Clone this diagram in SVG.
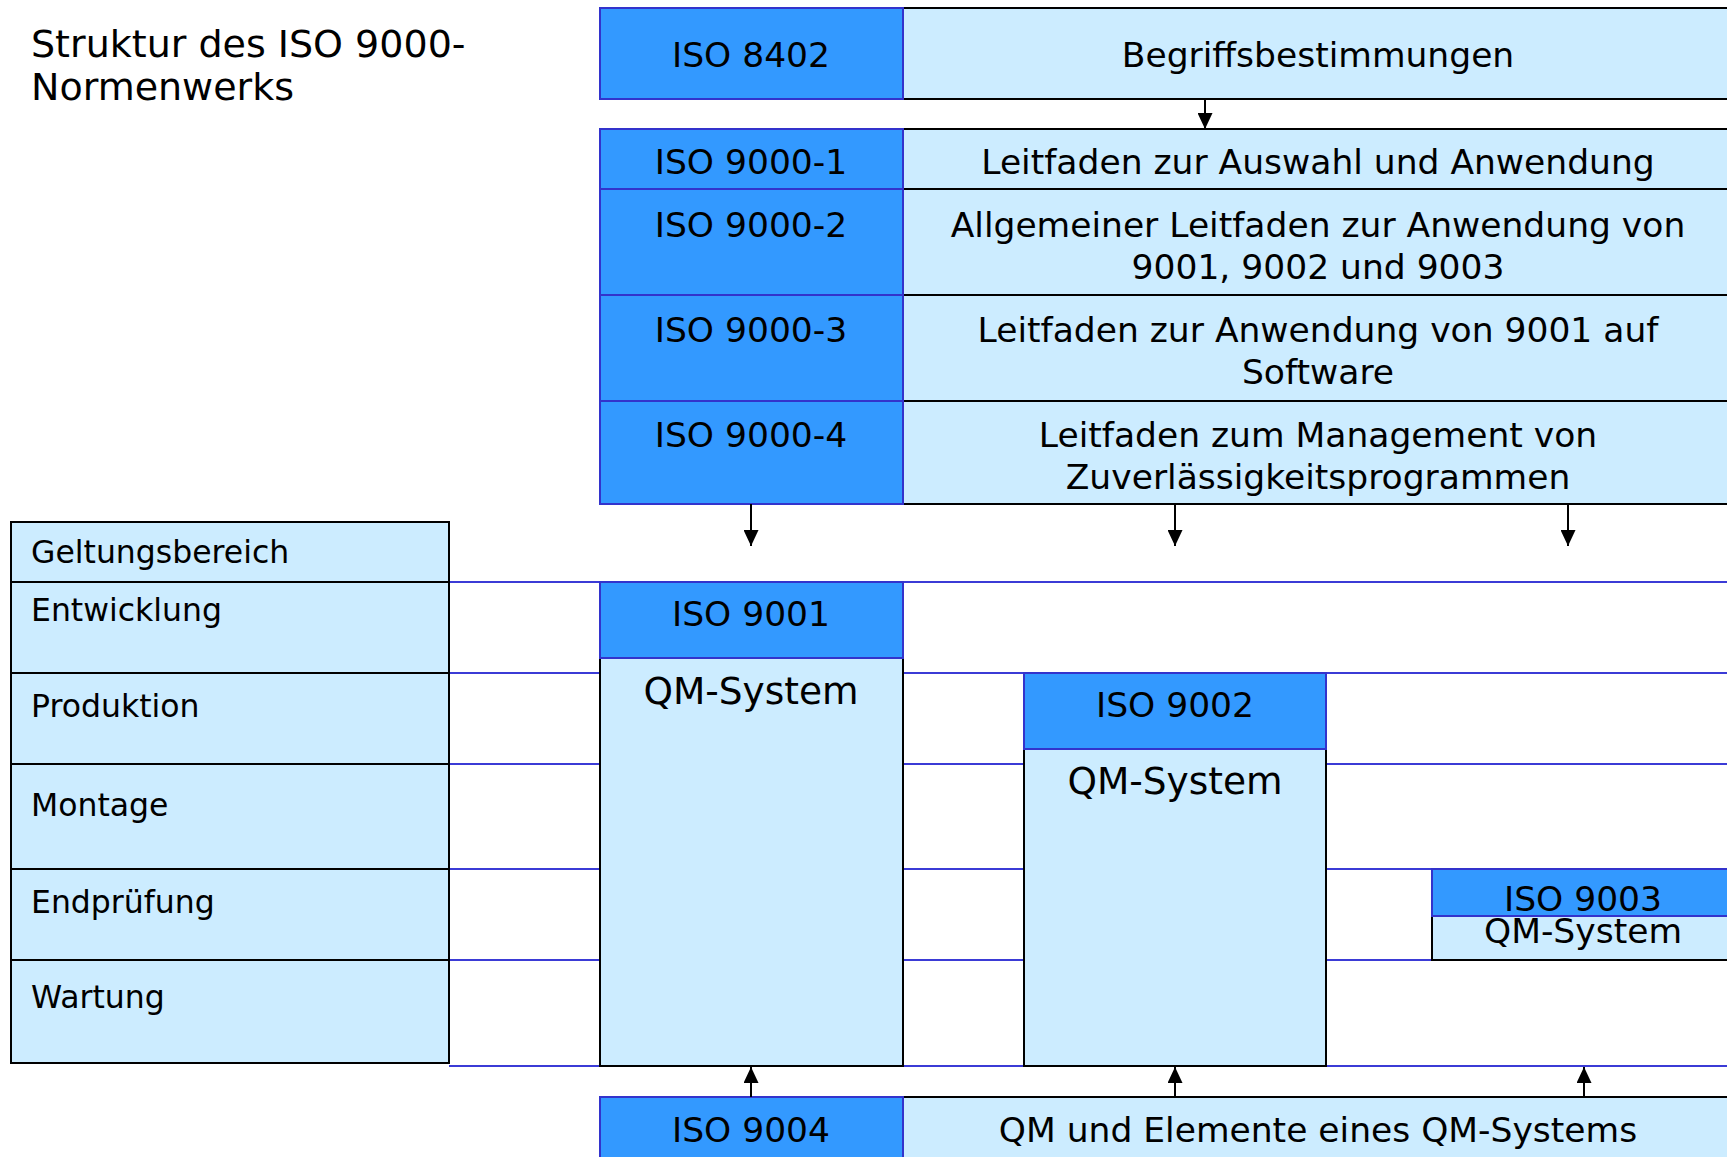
<svg xmlns="http://www.w3.org/2000/svg" width="1727" height="1157" viewBox="0 0 1727 1157">
  <style>
    .hdr { fill: #3399ff; stroke: #3333cc; stroke-width: 2; }
    .cell { fill: #ccecff; stroke: #000; stroke-width: 2; }
    .lane { stroke: #3b3bd6; stroke-width: 2; fill: none; }
    .conn { stroke: #000; stroke-width: 2; fill: none; }
    text { font-family: "DejaVu Sans", Verdana, sans-serif; fill: #000; }
    .c { text-anchor: middle; font-size: 34.5px; }
    .lbl { font-size: 31.5px; }
    .qm { text-anchor: middle; font-size: 37.5px; }
    .title { font-size: 38px; }
  </style>
  <defs>
    <marker id="arrow" markerUnits="userSpaceOnUse" markerWidth="16" markerHeight="15" refX="16" refY="7.5" orient="auto">
      <path d="M0,0 L16,7.5 L0,15 Z" fill="#000"/>
    </marker>
  </defs>
  <rect width="1727" height="1157" fill="#fff"/>

  <!-- title -->
  <g id="title">
    <text class="title" x="31" y="57">Struktur des ISO 9000-</text>
    <text class="title" x="31" y="100">Normenwerks</text>
  </g>

  <!-- lane guide lines for the scope rows -->
  <g id="lanes">
    <line class="lane" x1="449" y1="582" x2="1727" y2="582"/>
    <line class="lane" x1="449" y1="673" x2="1727" y2="673"/>
    <line class="lane" x1="449" y1="764" x2="1727" y2="764"/>
    <line class="lane" x1="449" y1="869" x2="1727" y2="869"/>
    <line class="lane" x1="449" y1="960" x2="1727" y2="960"/>
    <line class="lane" x1="449" y1="1066" x2="1727" y2="1066"/>
  </g>

  <!-- ISO 8402 -->
  <g id="iso8402">
    <rect class="cell" x="903" y="8" width="832" height="91"/>
    <rect class="hdr" x="600" y="8" width="303" height="91"/>
    <text class="c" x="751" y="67">ISO 8402</text>
    <text class="c" x="1318" y="67">Begriffsbestimmungen</text>
  </g>

  <!-- ISO 9000 parts -->
  <g id="iso9000-1">
    <rect class="cell" x="903" y="129" width="832" height="60"/>
    <rect class="hdr" x="600" y="129" width="303" height="60"/>
    <text class="c" x="751" y="174">ISO 9000-1</text>
    <text class="c" x="1318" y="174">Leitfaden zur Auswahl und Anwendung</text>
  </g>
  <g id="iso9000-2">
    <rect class="cell" x="903" y="189" width="832" height="106"/>
    <rect class="hdr" x="600" y="189" width="303" height="106"/>
    <text class="c" x="751" y="237">ISO 9000-2</text>
    <text class="c" x="1318" y="237">Allgemeiner Leitfaden zur Anwendung von</text>
    <text class="c" x="1318" y="279">9001, 9002 und 9003</text>
  </g>
  <g id="iso9000-3">
    <rect class="cell" x="903" y="295" width="832" height="106"/>
    <rect class="hdr" x="600" y="295" width="303" height="106"/>
    <text class="c" x="751" y="342">ISO 9000-3</text>
    <text class="c" x="1318" y="342">Leitfaden zur Anwendung von 9001 auf</text>
    <text class="c" x="1318" y="384">Software</text>
  </g>
  <g id="iso9000-4">
    <rect class="cell" x="903" y="401" width="832" height="103"/>
    <rect class="hdr" x="600" y="401" width="303" height="103"/>
    <text class="c" x="751" y="447">ISO 9000-4</text>
    <text class="c" x="1318" y="447">Leitfaden zum Management von</text>
    <text class="c" x="1318" y="489">Zuverlässigkeitsprogrammen</text>
  </g>

  <!-- scope table -->
  <g id="scope">
    <rect class="cell" x="11" y="522" width="438" height="60"/>
    <rect class="cell" x="11" y="582" width="438" height="91"/>
    <rect class="cell" x="11" y="673" width="438" height="91"/>
    <rect class="cell" x="11" y="764" width="438" height="105"/>
    <rect class="cell" x="11" y="869" width="438" height="91"/>
    <rect class="cell" x="11" y="960" width="438" height="103"/>
    <text class="lbl" x="31" y="563">Geltungsbereich</text>
    <text class="lbl" x="31" y="621">Entwicklung</text>
    <text class="lbl" x="31" y="717">Produktion</text>
    <text class="lbl" x="31" y="816">Montage</text>
    <text class="lbl" x="31" y="913">Endprüfung</text>
    <text class="lbl" x="31" y="1008">Wartung</text>
  </g>

  <!-- ISO 9001 -->
  <g id="iso9001">
    <rect class="cell" x="600" y="658" width="303" height="408"/>
    <rect class="hdr" x="600" y="582" width="303" height="76"/>
    <text class="c" x="751" y="626">ISO 9001</text>
    <text class="qm" x="751" y="704">QM-System</text>
  </g>

  <!-- ISO 9002 -->
  <g id="iso9002">
    <rect class="cell" x="1024" y="749" width="302" height="317"/>
    <rect class="hdr" x="1024" y="673" width="302" height="76"/>
    <text class="c" x="1175" y="717">ISO 9002</text>
    <text class="qm" x="1175" y="794">QM-System</text>
  </g>

  <!-- ISO 9003 -->
  <g id="iso9003">
    <rect class="cell" x="1432" y="916" width="303" height="44"/>
    <rect class="hdr" x="1432" y="869" width="303" height="47"/>
    <text class="c" x="1583" y="911">ISO 9003</text>
    <text class="c" x="1583" y="943">QM-System</text>
  </g>

  <!-- ISO 9004 -->
  <g id="iso9004">
    <rect class="cell" x="903" y="1097" width="832" height="70"/>
    <rect class="hdr" x="600" y="1097" width="303" height="70"/>
    <text class="c" x="751" y="1142">ISO 9004</text>
    <text class="c" x="1318" y="1142">QM und Elemente eines QM-Systems</text>
  </g>

  <!-- connectors -->
  <g id="connectors">
    <line class="conn" x1="1205" y1="99" x2="1205" y2="129" marker-end="url(#arrow)"/>
    <line class="conn" x1="751" y1="504" x2="751" y2="546" marker-end="url(#arrow)"/>
    <line class="conn" x1="1175" y1="504" x2="1175" y2="546" marker-end="url(#arrow)"/>
    <line class="conn" x1="1568" y1="504" x2="1568" y2="546" marker-end="url(#arrow)"/>
    <line class="conn" x1="751" y1="1097" x2="751" y2="1067" marker-end="url(#arrow)"/>
    <line class="conn" x1="1175" y1="1097" x2="1175" y2="1067" marker-end="url(#arrow)"/>
    <line class="conn" x1="1584" y1="1097" x2="1584" y2="1067" marker-end="url(#arrow)"/>
  </g>
</svg>
